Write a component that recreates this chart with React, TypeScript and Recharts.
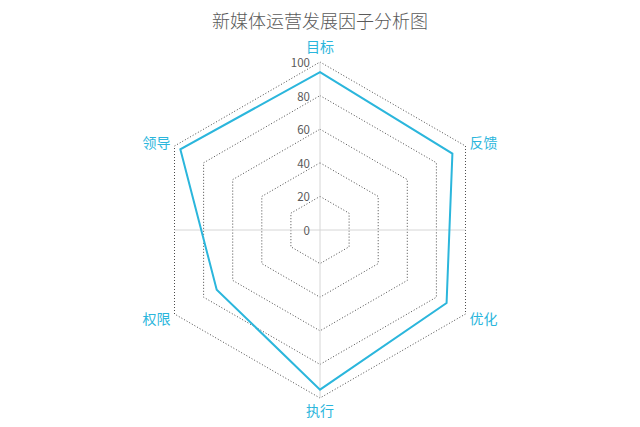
import { RadarChart, Radar, PolarGrid, PolarAngleAxis, PolarRadiusAxis, Customized } from 'recharts';

const factors = ['目标', '反馈', '优化', '执行', '权限', '领导'];
const scores = [94, 91, 87, 95, 71, 96];
const radiusTicks = [0, 20, 40, 60, 80, 100];

const data = factors.map((name, i) => ({ name, value: scores[i] }));

const CX = 320;
const CY = 230;
const R = 168;
const CYAN = '#2bb6dc';
const FONT = '"Noto Sans CJK SC", "Noto Sans", sans-serif';

function CrossLines() {
  const half = R * Math.cos(Math.PI / 6);
  return (
    <g>
      <line x1={CX - half} y1={CY} x2={CX + half} y2={CY} stroke="#d6d6d6" strokeWidth={1} />
      <line x1={CX} y1={CY - R} x2={CX} y2={CY + R} stroke="#d6d6d6" strokeWidth={1} />
    </g>
  );
}

function RadiusTick(props: any) {
  const { x, y, payload } = props;
  return (
    <text
      x={x - 10}
      y={y}
      textAnchor="end"
      dominantBaseline="central"
      fill="#595959"
      fontSize={11.5}
      fontFamily={FONT}
    >
      {payload.value}
    </text>
  );
}

// nudge the factor names to where the original puts them
function FactorTick(props: any) {
  const { x, y, payload, textAnchor } = props;
  const dx = x - CX;
  const dy = y - CY;
  let tx = x;
  let ty = y;
  if (Math.abs(dx) < 1) {
    ty = y + (dy < 0 ? -8 : 4);
  } else {
    tx = x - Math.sign(dx) * 3;
  }
  return (
    <text
      x={tx}
      y={ty}
      textAnchor={textAnchor}
      dominantBaseline="central"
      fill={CYAN}
      fontSize={14}
      fontFamily={FONT}
    >
      {payload.value}
    </text>
  );
}

export default function App() {
  return (
    <div style={{ position: 'absolute', left: 0, top: 0, width: 640, height: 427, background: '#fff' }}>
      <div
        style={{
          position: 'absolute',
          top: 7,
          width: 640,
          textAlign: 'center',
          fontFamily: FONT,
          fontSize: 18,
          fontWeight: 300,
          color: '#595959',
        }}
      >
        新媒体运营发展因子分析图
      </div>
      <RadarChart width={640} height={427} data={data} cx={CX} cy={CY} outerRadius={R}>
        <Customized component={CrossLines} />
        <PolarGrid gridType="polygon" radialLines={false} stroke="#4a4a4a" strokeDasharray="1 2" />
        <PolarAngleAxis dataKey="name" axisLine={false} tickLine={false} tick={FactorTick} />
        <PolarRadiusAxis
          angle={90}
          domain={[0, 100]}
          ticks={radiusTicks}
          tickCount={6}
          axisLine={false}
          tickLine={false}
          tick={RadiusTick}
        />
        <Radar
          dataKey="value"
          stroke={CYAN}
          strokeWidth={2}
          fill="none"
          fillOpacity={0}
          dot={false}
          isAnimationActive={false}
        />
      </RadarChart>
    </div>
  );
}
